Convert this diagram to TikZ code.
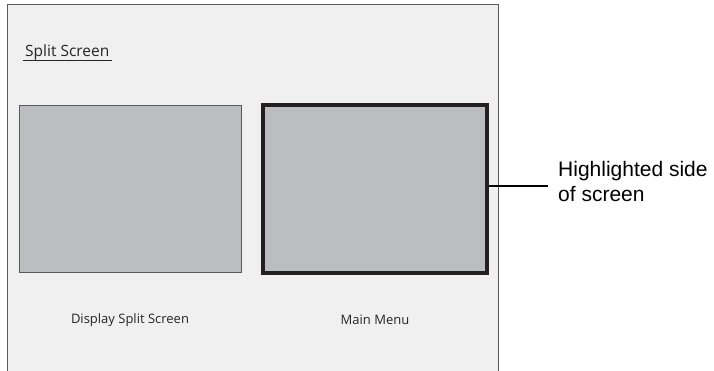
\documentclass[tikz,border=0pt]{standalone}
\usepackage{fontspec}
\setmainfont{Open Sans}
\newfontfamily\notefont{Liberation Sans}
\definecolor{panelgray}{HTML}{F0F0F0}
\definecolor{boxgray}{HTML}{BCBDC0}
\definecolor{framegray}{HTML}{5A5A5A}
\definecolor{inkdark}{HTML}{231F20}
\tikzset{
  screenbox/.style={draw=framegray, fill=boxgray, line width=1pt, inner sep=0pt},
  hilitebox/.style={draw=inkdark, fill=boxgray, line width=4pt, inner sep=0pt},
  menulabel/.style={text=black!85, font=\fontsize{13}{15}\selectfont},
}
\begin{document}
\begin{tikzpicture}[x=1pt,y=-1pt]

\useasboundingbox (0,0) rectangle (714,371);

% panel
\fill[panelgray] (7,5) rectangle (498,380);
\draw[framegray, line width=1pt] (7,380) -- (7,5) -- (498,5) -- (498,380);

\node[anchor=base west, inner xsep=2pt, text=black!85,
      font=\fontsize{15.5}{18}\selectfont] (title) at (23,57) {Split Screen};
\draw[black!85, line width=0.8pt] ([yshift=-3pt]title.base west) -- ([yshift=-3pt]title.base east);

\node[screenbox, minimum width=222pt, minimum height=166pt] (dss) at (130,189) {};
\node[hilitebox, minimum width=224pt, minimum height=168pt] (mm) at (375,189) {};

\node[menulabel] (dsslbl) at (130,320) {Display Split Screen};
\node[menulabel] (mmlbl) at (375,320) {Main Menu};

\node[anchor=west, align=left, inner xsep=10pt, inner ysep=0pt,
      font=\notefont\fontsize{21}{25}\selectfont] (note) at (548,181) {Highlighted side\\of screen};
\draw[black, line width=1.5pt] ([yshift=3pt]mm.east) -- ([yshift=3pt]mm.east -| note.west);

\end{tikzpicture}
\end{document}
